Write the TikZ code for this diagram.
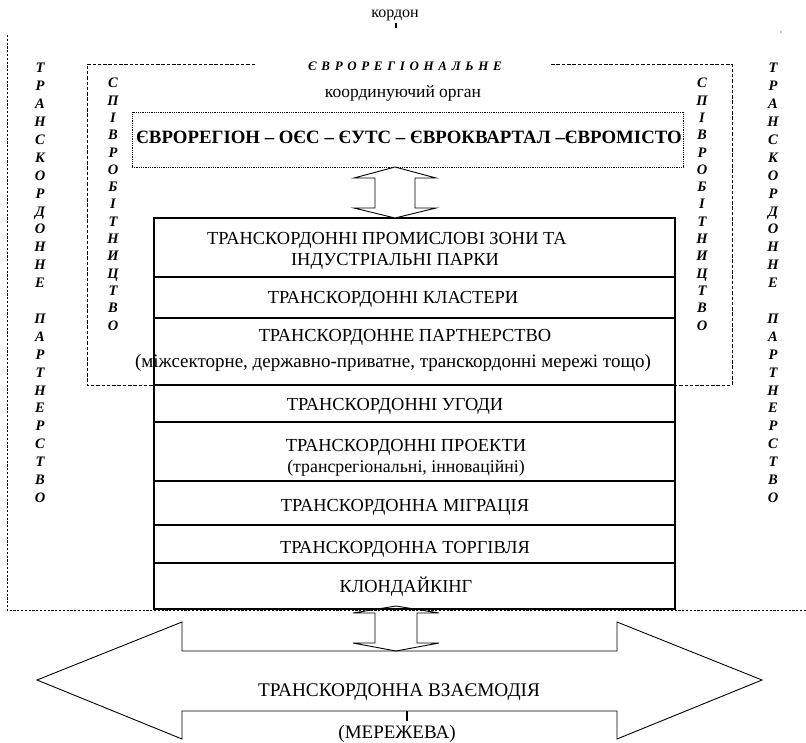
\documentclass[tikz,border=0pt]{standalone}
\usepackage{fontspec}
\setmainfont{Liberation Serif}
\usetikzlibrary{calc}
\begin{document}
\begin{tikzpicture}[x=1pt,y=-1pt,
  every node/.style={inner sep=0pt, outer sep=0pt},
  rowbox/.style={draw, line width=1.5pt, fill=white, minimum width=521pt, anchor=north west},
  rowtext/.style={font=\fontsize{18.4}{21}\selectfont, anchor=base},
  subtext/.style={font=\fontsize{19}{22}\selectfont, anchor=base},
  smalltext/.style={font=\fontsize{17.8}{20}\selectfont, anchor=base},
  vletter/.style={font=\fontsize{14.5}{14.5}\selectfont\bfseries\itshape, anchor=base},
  blockarrow/.style={draw, line width=0.9pt, fill=white, line join=miter},
  framedash/.style={line width=0.9pt, dash pattern=on 2.2pt off 1.6pt},
  eurodash/.style={line width=1pt, dash pattern=on 3.5pt off 1.8pt},
  dotbox/.style={draw, line width=0.9pt, dash pattern=on 0.9pt off 0.9pt},
]
\useasboundingbox (0,0) rectangle (806,742);

% border line of the cross-border area
\draw[framedash] (7,35) -- (7,610) -- (806,610);
\fill (781,32) circle (0.7);
\node[font=\fontsize{16}{18}\selectfont, anchor=base] (kordon) at (395,17) {кордон};
\draw[line width=1.4pt] (396,23) -- (396,27.5);

% outer vertical captions
\foreach \c [count=\i] in {Т,Р,А,Н,С,К,О,Р,Д,О,Н,Н,Е,{},П,А,Р,Т,Н,Е,Р,С,Т,В,О} {
  \node[vletter] (ol\i) at (40,{72.8+17.9*(\i-1)}) {\c};
  \node[vletter] (or\i) at (773,{72.8+17.9*(\i-1)}) {\c};
}

% euroregional frame with its title
\draw[eurodash] (255,64) -- (87,64) -- (87,385) -- (732,385) -- (732,64) -- (550,64);
\node[font=\fontsize{13}{15}\selectfont\bfseries\itshape\addfontfeature{LetterSpace=36}, anchor=base] (etitle) at (405,70.3) {ЄВРОРЕГІОНАЛЬНЕ};
\node[font=\fontsize{17.5}{20}\selectfont, anchor=base] (organ) at (403,97) {координуючий орган};

% inner vertical captions
\foreach \c [count=\i] in {С,П,І,В,Р,О,Б,І,Т,Н,И,Ц,Т,В,О} {
  \node[vletter] (il\i) at (113,{87.8+17.3*(\i-1)}) {\c};
  \node[vletter] (ir\i) at (702,{87.8+17.3*(\i-1)}) {\c};
}

% coordinating body
\node[dotbox, minimum width=551pt, minimum height=55pt] (ebox) at (407.5,139.5) {};
\node[font=\fontsize{18.8}{21}\selectfont\bfseries, anchor=base] (etext) at (409,143.2)
  {ЄВРОРЕГІОН – ОЄС – ЄУТС – ЄВРОКВАРТАЛ –ЄВРОМІСТО};

% stack of cross-border forms
\node[rowbox, minimum height=59pt] (r1) at (154,218) {};
\node[rowbox, minimum height=41pt] (r2) at (154,277) {};
\node[rowbox, minimum height=67pt] (r3) at (154,318) {};
\node[rowbox, minimum height=37pt] (r4) at (154,385) {};
\node[rowbox, minimum height=59pt] (r5) at (154,422) {};
\node[rowbox, minimum height=44pt] (r6) at (154,481) {};
\node[rowbox, minimum height=38pt] (r7) at (154,525) {};
\node[rowbox, minimum height=46pt] (r8) at (154,563) {};

\node[rowtext] (t1a) at (387,244.5) {ТРАНСКОРДОННІ ПРОМИСЛОВІ ЗОНИ ТА};
\node[rowtext] (t1b) at (395,265) {ІНДУСТРІАЛЬНІ ПАРКИ};
\node[rowtext] (t2) at (393,303.6) {ТРАНСКОРДОННІ КЛАСТЕРИ};
\node[rowtext] (t3a) at (405,341.1) {ТРАНСКОРДОННЕ ПАРТНЕРСТВО};
\node[subtext] (t3b) at (393,367) {(міжсекторне, державно-приватне, транскордонні мережі тощо)};
\node[rowtext] (t4) at (395,410.1) {ТРАНСКОРДОННІ УГОДИ};
\node[rowtext] (t5a) at (406,451.1) {ТРАНСКОРДОННІ ПРОЕКТИ};
\node[smalltext] (t5b) at (406,472.5) {(трансрегіональні, інноваційні)};
\node[rowtext] (t6) at (405,511.1) {ТРАНСКОРДОННА МІГРАЦІЯ};
\node[rowtext] (t7) at (405,553.6) {ТРАНСКОРДОННА ТОРГІВЛЯ};
\node[rowtext] (t8) at (406,592) {КЛОНДАЙКІНГ};

% big horizontal double arrow
\coordinate (bigtop) at (400,651);
\draw[blockarrow] (37,680) -- (182,622) -- (182,651) -- (617,651) -- (617,622) -- (762,680)
  -- (617,739) -- (617,711) -- (182,711) -- (182,739) -- cycle;
\node[font=\fontsize{19.3}{22}\selectfont, anchor=base] (inter) at (399,696.4) {ТРАНСКОРДОННА ВЗАЄМОДІЯ};
\node[font=\fontsize{19}{22}\selectfont, anchor=base] (net) at (397,738.3) {(МЕРЕЖЕВА)};
\draw[line width=1.5pt] (407,711) -- (407,721);

% vertical double arrows between levels
\coordinate (ax1) at (395,0);
\coordinate (ax2) at (396,0);
\coordinate (u1) at (ebox.south -| ax1);
\coordinate (d1) at (r1.north -| ax1);
\coordinate (u2) at ($(r8.south -| ax2)+(0,-3)$);
\coordinate (d2) at (bigtop -| ax2);
\draw[blockarrow] (u1) -- ($(u1)+(41,11)$) -- ($(u1)+(20,11)$) -- ($(d1)+(20,-10)$) -- ($(d1)+(41,-10)$)
  -- (d1) -- ($(d1)+(-41,-10)$) -- ($(d1)+(-20,-10)$) -- ($(u1)+(-20,11)$) -- ($(u1)+(-41,11)$) -- cycle;
\draw[blockarrow, fill=none] (u2) -- ($(u2)+(43,7)$) -- ($(u2)+(21,7)$) -- ($(d2)+(21,-8)$) -- ($(d2)+(43,-8)$)
  -- (d2) -- ($(d2)+(-43,-8)$) -- ($(d2)+(-21,-8)$) -- ($(u2)+(-21,7)$) -- ($(u2)+(-43,7)$) -- cycle;
\end{tikzpicture}
\end{document}
